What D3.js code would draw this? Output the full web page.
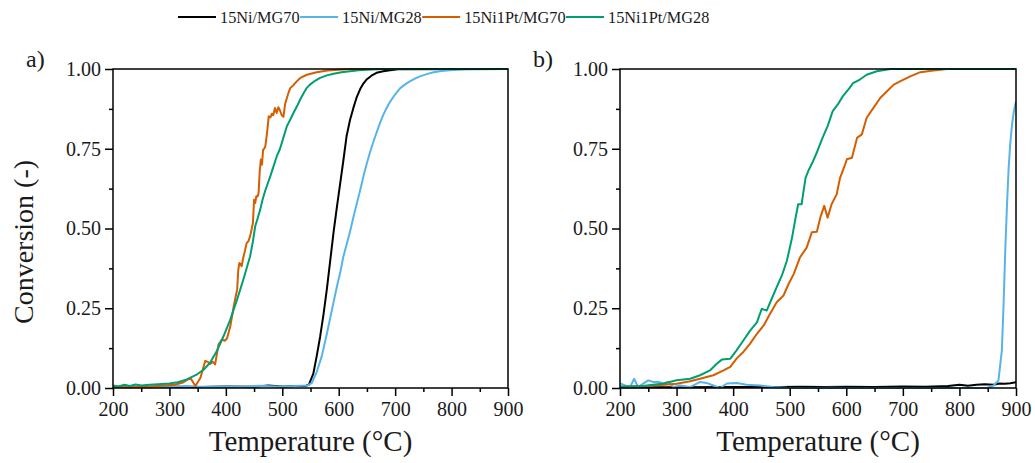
<!DOCTYPE html>
<html><head><meta charset="utf-8">
<script src="https://cdn.jsdelivr.net/npm/d3@7"></script>
<style>
body{margin:0;background:#fff;}
svg text{font-family:"Liberation Serif","Times New Roman",serif !important;fill:#1a1a1a;}
</style></head>
<body><svg id="c" width="1035" height="463"></svg>
<script>
const seriesNames = ["15Ni/MG70","15Ni/MG28","15Ni1Pt/MG70","15Ni1Pt/MG28"];
const seriesColors = ["#000000","#56B4E9","#D55E00","#009E73"];
const xTicks = [200,300,400,500,600,700,800,900];
const yTicks = [0,0.25,0.5,0.75,1.0];

// Panel a) [temperature °C, conversion]
const a_Ni70 = [[200,0.004],[250,0.003],[300,0.004],[350,0.003],[400,0.005],[450,0.004],[475,0.008],[500,0.005],[525,0.006],[540,0.006],[547,0.01],[555,0.045],[561,0.1],[567,0.16],[573,0.23],[579,0.31],[585,0.4],[591,0.49],[597,0.57],[602.5,0.64],[608,0.71],[614,0.79],[620,0.84],[626,0.878],[632,0.912],[638,0.937],[644,0.955],[650,0.968],[658,0.979],[667,0.988],[679,0.993],[691,0.996],[705,0.999],[900,1.0]];
const a_Ni28 = [[200,0.003],[230,0.005],[260,0.002],[300,0.004],[330,0.006],[360,0.003],[400,0.005],[430,0.004],[460,0.007],[490,0.005],[520,0.006],[545,0.008],[552,0.015],[561,0.05],[570,0.1],[579,0.17],[585,0.22],[591,0.27],[597,0.32],[603,0.365],[608,0.41],[614,0.45],[620,0.49],[626,0.535],[632,0.578],[638,0.62],[644,0.665],[650,0.705],[656,0.742],[662,0.775],[668,0.805],[673,0.83],[679,0.856],[685,0.878],[691,0.897],[697,0.913],[703,0.927],[709,0.94],[717,0.951],[726,0.961],[735,0.97],[744,0.977],[756,0.984],[768,0.99],[782,0.994],[797,0.996],[825,0.999],[900,1.0]];
const a_Pt70 = [[200,0.003],[230,0.002],[260,0.004],[290,0.008],[310,0.01],[325,0.018],[337,0.032],[346,0.006],[355,0.032],[363.5,0.085],[368,0.082],[372,0.075],[377,0.082],[381,0.074],[387,0.137],[393,0.152],[398,0.148],[402,0.155],[408,0.194],[414,0.257],[420,0.309],[422,0.37],[424,0.392],[428,0.382],[431,0.41],[433,0.424],[437,0.455],[440,0.46],[443,0.476],[446,0.5],[448,0.518],[450,0.59],[452,0.58],[454,0.601],[456,0.6],[458,0.61],[460,0.68],[462,0.716],[464,0.7],[466,0.747],[468,0.75],[470,0.758],[473,0.8],[476,0.852],[479,0.848],[481.5,0.86],[484,0.855],[487,0.878],[490,0.862],[493,0.88],[496,0.87],[499,0.855],[502,0.85],[505,0.89],[510,0.92],[514,0.94],[520,0.95],[526,0.962],[532,0.972],[543.5,0.982],[561,0.99],[580,0.995],[600,0.998],[620,1.0],[900,1.0]];
const a_Pt28 = [[200,0.008],[210,0.005],[220,0.01],[230,0.006],[240,0.011],[250,0.008],[265,0.01],[280,0.012],[300,0.014],[315,0.018],[331,0.027],[349,0.043],[361,0.058],[372,0.079],[384,0.116],[396,0.163],[408,0.215],[420,0.278],[431,0.34],[443,0.413],[448,0.46],[452,0.507],[456,0.53],[461,0.56],[465,0.59],[470,0.62],[475,0.645],[479,0.665],[485,0.698],[490,0.725],[496,0.75],[502,0.785],[508,0.82],[514,0.841],[520,0.863],[526,0.883],[532,0.905],[538,0.925],[543,0.94],[549,0.951],[558,0.963],[567,0.972],[579,0.98],[591,0.985],[605,0.99],[620,0.993],[635,0.996],[650,0.998],[679,1.0],[900,1.0]];

// Panel b)
const b_Ni70 = [[200,0.002],[300,0.002],[400,0.003],[480,0.003],[520,0.004],[560,0.003],[600,0.004],[650,0.003],[700,0.005],[740,0.004],[780,0.006],[800,0.01],[815,0.007],[830,0.01],[845,0.012],[860,0.01],[870,0.014],[880,0.013],[890,0.015],[900,0.018]];
const b_Ni28 = [[200,0.014],[209,0.008],[218,0.003],[225,0.029],[232,0.003],[241,0.014],[250,0.024],[259,0.019],[268,0.019],[277,0.014],[285.5,0.019],[294,0.003],[306,0.008],[324,0.003],[341.5,0.019],[353,0.016],[365,0.008],[377,0.0],[389,0.014],[406,0.016],[424,0.01],[448,0.008],[471,0.003],[495,0.001],[542,0.0],[571.5,0.001],[600,0.0],[849,0.0],[860.5,0.008],[869,0.024],[875,0.118],[878,0.26],[881,0.43],[884,0.57],[887,0.69],[890,0.77],[893,0.826],[896,0.865],[900,0.899]];
const b_Pt70 = [[200,0.004],[250,0.006],[300,0.013],[324,0.021],[341.5,0.029],[365,0.04],[383,0.055],[395,0.066],[406,0.092],[418,0.113],[430,0.139],[442,0.17],[454,0.196],[465,0.232],[477,0.269],[489,0.29],[498,0.326],[507,0.357],[518,0.409],[530,0.44],[539,0.488],[548,0.49],[554,0.534],[561,0.571],[567,0.534],[574,0.576],[583,0.607],[589,0.659],[598,0.701],[601,0.717],[610,0.722],[619,0.784],[627.5,0.795],[636,0.847],[648,0.878],[660,0.909],[672,0.93],[684,0.951],[695,0.961],[713,0.977],[731,0.99],[754,0.995],[778,1.0],[900,1.0]];
const b_Pt28 = [[200,0.004],[240,0.006],[277,0.014],[300,0.024],[324,0.029],[341.5,0.04],[359,0.055],[371,0.076],[380,0.089],[395,0.092],[406,0.118],[418,0.149],[430,0.18],[442,0.206],[450.6,0.248],[459.5,0.243],[468,0.279],[477,0.316],[486,0.352],[495,0.399],[504,0.47],[510,0.53],[515,0.576],[521,0.576],[528,0.659],[534,0.685],[540,0.706],[549,0.743],[558,0.784],[567,0.821],[576,0.868],[585,0.889],[594,0.915],[606,0.941],[612,0.956],[624,0.967],[636,0.982],[654,0.993],[678,1.0],[900,1.0]];

const panels = [
  {label:"a)", x0:113, x1:508, data:[a_Ni70,a_Ni28,a_Pt70,a_Pt28], showYTitle:true},
  {label:"b)", x0:620, x1:1016, data:[b_Ni70,b_Ni28,b_Pt70,b_Pt28], showYTitle:false}
];
const yTop = 69, yBot = 388;
const FONT = '"Liberation Serif","Times New Roman",serif';

const svg = d3.select("#c");

panels.forEach(p => {
  const x = d3.scaleLinear().domain([200,900]).range([p.x0,p.x1]);
  const y = d3.scaleLinear().domain([0,1]).range([yBot,yTop]);
  const g = svg.append("g");

  const clipId = "clip"+p.label[0];
  g.append("clipPath").attr("id",clipId).append("rect")
    .attr("x",p.x0).attr("y",yTop-2).attr("width",p.x1-p.x0).attr("height",yBot-yTop+4);

  const line = d3.line().x(d=>x(d[0])).y(d=>y(d[1]));
  const lg = g.append("g").attr("clip-path",`url(#${clipId})`);
  p.data.forEach((s,i)=>{
    lg.append("path").datum(s).attr("d",line).attr("fill","none")
      .attr("stroke",seriesColors[i]).attr("stroke-width",2).attr("stroke-linejoin","round");
  });

  // minor ticks
  const xMinor = d3.axisBottom(x).tickValues(d3.range(250,900,100)).tickSize(4).tickFormat("");
  const yMinor = d3.axisLeft(y).tickValues([0.125,0.375,0.625,0.875]).tickSize(4).tickFormat("");
  g.append("g").attr("transform",`translate(0,${yBot})`).call(xMinor).call(s=>s.select(".domain").remove()).selectAll("line").attr("stroke","#000").attr("stroke-width",1.5);
  g.append("g").attr("transform",`translate(${p.x0},0)`).call(yMinor).call(s=>s.select(".domain").remove()).selectAll("line").attr("stroke","#000").attr("stroke-width",1.5);

  const xAxis = d3.axisBottom(x).tickValues(xTicks).tickSize(8).tickPadding(6).tickFormat(d3.format("d"));
  const yAxis = d3.axisLeft(y).tickValues(yTicks).tickSize(8).tickPadding(4).tickFormat(d3.format(".2f"));
  const gx = g.append("g").attr("transform",`translate(0,${yBot})`).call(xAxis);
  const gy = g.append("g").attr("transform",`translate(${p.x0},0)`).call(yAxis);
  [gx,gy].forEach(a=>{
    a.attr("font-family",FONT).attr("font-size",20);
    a.select(".domain").remove();
    a.selectAll("line").attr("stroke","#000").attr("stroke-width",1.5);
    a.selectAll("text").style("font-family",FONT).style("font-size","20px").attr("fill","#1a1a1a");
  });

  // frame
  g.append("rect").attr("x",p.x0).attr("y",yTop).attr("width",p.x1-p.x0).attr("height",yBot-yTop)
    .attr("fill","none").attr("stroke","#000").attr("stroke-width",1.5);

  g.append("text").attr("x",(p.x0+p.x1)/2).attr("y",451).attr("text-anchor","middle")
    .style("font-family",FONT).style("font-size","29px").text("Temperature (°C)");
  g.append("text").attr("x",p.x0-87).attr("y",67).style("font-family",FONT).style("font-size","24px").text(p.label);
  if(p.showYTitle){
    g.append("text").attr("transform",`translate(33,242) rotate(-90)`)
      .attr("text-anchor","middle").style("font-family",FONT).style("font-size","28px").text("Conversion (-)");
  }
});

// legend: line then label, laid out sequentially
const lgd = svg.append("g");
let lx = 178;
seriesNames.forEach((n,i)=>{
  lgd.append("line").attr("x1",lx).attr("x2",lx+38).attr("y1",17).attr("y2",17)
    .attr("stroke",seriesColors[i]).attr("stroke-width",2);
  const t = lgd.append("text").attr("x",lx+42).attr("y",23).style("font-family",FONT).style("font-size","16.3px").text(n);
  lx = lx + 42 + t.node().getComputedTextLength() + 0.5;
});
</script></body></html>
